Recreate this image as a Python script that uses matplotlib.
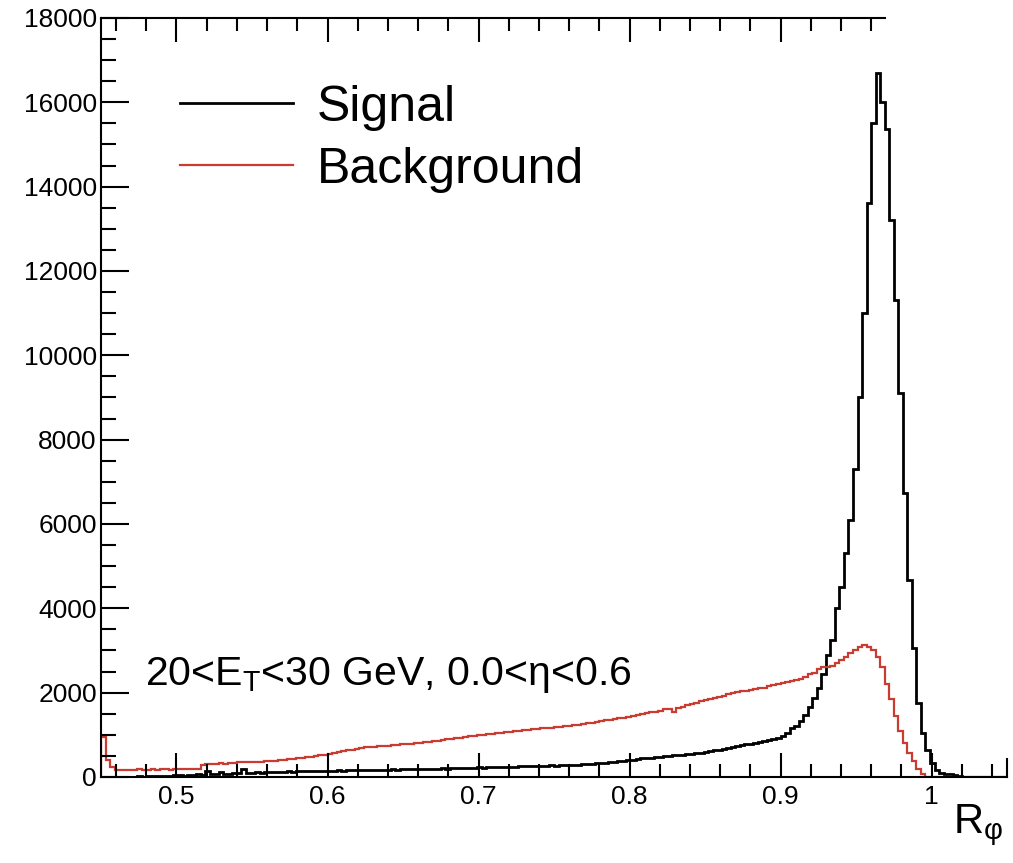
import matplotlib
matplotlib.use("Agg")
import matplotlib.pyplot as plt
import numpy as np
from matplotlib.ticker import MultipleLocator, FixedLocator

plt.rcParams["font.family"] = ["Liberation Sans", "DejaVu Sans"]

# histogram binning: 200 bins of 0.003 from 0.45 to 1.05
x_lo, x_hi, n_bins = 0.45, 1.05, 200

signal = [
    0, 5, 0, 10, 0, 5, 10, 0, 15, 10,
    20, 15, 25, 20, 30, 25, 35, 40, 30, 45,
    50, 60, 55, 150, 70, 65, 120, 75, 80, 90,
    95, 180, 100, 105, 110, 100, 115, 120, 110, 125,
    120, 130, 125, 135, 130, 140, 135, 145, 140, 150,
    145, 150, 155, 150, 160, 155, 160, 165, 160, 170,
    165, 170, 175, 170, 180, 175, 185, 180, 190, 185,
    190, 195, 190, 200, 195, 205, 200, 210, 205, 215,
    210, 220, 215, 225, 220, 230, 235, 230, 240, 235,
    245, 240, 250, 255, 250, 260, 265, 260, 270, 275,
    270, 280, 285, 280, 290, 295, 300, 305, 310, 320,
    330, 340, 350, 360, 370, 380, 395, 410, 420, 440,
    450, 460, 470, 480, 490, 500, 510, 520, 530, 540,
    550, 560, 575, 590, 610, 630, 650, 670, 690, 710,
    730, 750, 770, 790, 810, 830, 850, 870, 890, 920,
    960, 1050, 1160, 1220, 1320, 1470, 1660, 1880, 2100, 2450,
    2900, 3250, 4010, 4500, 5300, 6100, 7300, 9000, 11000, 13600,
    15500, 16700, 16000, 15370, 13200, 11310, 9100, 6730, 4670, 3050,
    1750, 1040, 640, 330, 170, 100, 80, 60, 40, 20,
    0, 0, 0, 0, 0, 0, 0, 0, 0, 0,
]

background = [
    950, 400, 240, 170, 160, 175, 165, 170, 180, 170,
    175, 180, 170, 185, 180, 175, 190, 185, 180, 190,
    195, 185, 290, 300, 310, 300, 320, 310, 325, 330,
    350, 355, 345, 360, 365, 355, 370, 380, 390, 400,
    410, 420, 430, 440, 450, 470, 480, 500, 520, 530,
    550, 570, 590, 610, 630, 650, 670, 690, 700, 705,
    720, 725, 740, 745, 750, 760, 770, 780, 790, 800,
    810, 820, 830, 845, 860, 875, 890, 905, 920, 935,
    950, 960, 975, 985, 1000, 1010, 1025, 1040, 1050, 1060,
    1075, 1085, 1100, 1110, 1120, 1130, 1140, 1150, 1160, 1170,
    1180, 1190, 1200, 1215, 1230, 1240, 1255, 1270, 1285, 1300,
    1320, 1340, 1355, 1375, 1395, 1410, 1430, 1450, 1470, 1490,
    1510, 1530, 1550, 1570, 1600, 1620, 1540, 1640, 1670, 1700,
    1730, 1760, 1790, 1820, 1850, 1880, 1900, 1930, 1960, 1990,
    2010, 2030, 2050, 2060, 2080, 2100, 2120, 2150, 2180, 2200,
    2230, 2260, 2280, 2300, 2330, 2380, 2430, 2470, 2560, 2600,
    2610, 2620, 2700, 2770, 2850, 2940, 3000, 3080, 3120, 3090,
    3000, 2850, 2600, 2200, 1850, 1450, 1100, 800, 580, 380,
    200, 80, 0, 0, 0, 0, 0, 0, 0, 0,
    0, 0, 0, 0, 0, 0, 0, 0, 0, 0,
]

labels = ["Signal", "Background"]
colors = ["black", "#c83c32"]
annotation = r"20<E$_\mathregular{T}$<30 GeV, 0.0<η<0.6"
x_title = r"R$_\mathregular{φ}$"

edges = np.linspace(x_lo, x_hi, n_bins + 1)

fig = plt.figure(figsize=(10.13, 8.63), dpi=100)
ax = fig.add_axes([0.0997, 0.0997, 0.8944, 0.8795])

ax.stairs(signal, edges, color=colors[0], linewidth=2.0, label=labels[0])
ax.stairs(background, edges, color=colors[1], linewidth=1.6, label=labels[1])

ax.set_xlim(x_lo, x_hi)
ax.set_ylim(0, 18000)

ax.xaxis.set_major_locator(MultipleLocator(0.1))
ax.xaxis.set_minor_locator(MultipleLocator(0.02))
ax.yaxis.set_major_locator(MultipleLocator(2000))
ax.yaxis.set_minor_locator(MultipleLocator(500))
ax.xaxis.set_major_formatter(plt.FuncFormatter(lambda v, p: f"{v:g}"))

ax.tick_params(axis="x", which="major", direction="in", length=17, width=1.5,
               labelsize=19, pad=6, top=False)
ax.tick_params(axis="x", which="minor", direction="in", length=9.5, width=1.5,
               top=False)
ax.tick_params(axis="y", which="major", direction="in", length=20, width=1.5,
               labelsize=19, pad=3, right=False)
ax.tick_params(axis="y", which="minor", direction="in", length=11, width=1.5,
               right=False)

for s in ["left", "bottom"]:
    ax.spines[s].set_linewidth(1.5)
ax.spines["top"].set_visible(False)
ax.spines["right"].set_linewidth(1.5)
ax.spines["right"].set_bounds(0, 420)

# top axis only partially visible in the original
top = ax.secondary_xaxis("top")
top.xaxis.set_major_locator(FixedLocator([0.5, 0.6, 0.7, 0.8, 0.9]))
top.xaxis.set_minor_locator(FixedLocator(
    [v for v in np.arange(0.46, 0.97, 0.02) if abs(v * 10 - round(v * 10)) > 1e-6]))
top.tick_params(axis="x", which="major", direction="in", length=17, width=1.5,
                labeltop=False)
top.tick_params(axis="x", which="minor", direction="in", length=9.5, width=1.5)
top.spines["top"].set_linewidth(1.5)
top.spines["top"].set_bounds(x_lo, 0.969)

ax.legend(loc="upper left", bbox_to_anchor=(0.0872, 0.912), frameon=False,
          fontsize=36, handlelength=2.25, handletextpad=0.48, labelspacing=0.32,
          borderpad=0, borderaxespad=0)

ax.text(0.0486, 0.121, annotation, transform=ax.transAxes, fontsize=29.5,
        ha="left", va="baseline")

fig.text(0.99, 0.035, x_title, fontsize=30, ha="right", va="baseline")

fig.savefig("out.png", dpi=100)
